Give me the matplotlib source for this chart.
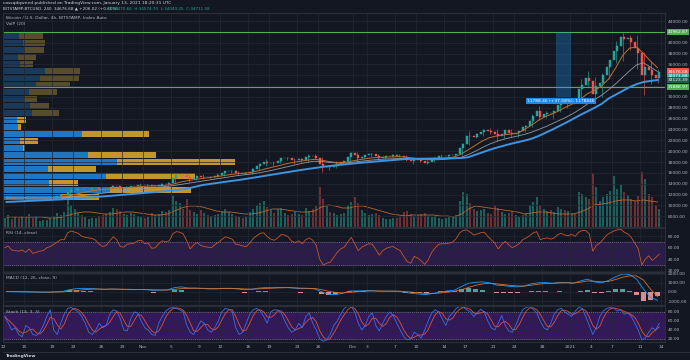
import numpy as np
import matplotlib.pyplot as plt
from matplotlib.patches import Rectangle

# ---------------- data (BTCUSD 4h chart, Oct 12 2020 -> Jan 13 2021) ----------------
# 12h closes, two per day
closes = np.array([
    11450, 11540, 11420, 11430, 11400, 11430, 11350, 11500, 11320, 11330,
    11360, 11370, 11450, 11500, 11600, 11750, 11900, 11920, 12500, 12820,
    12900, 12980, 12950, 13030, 13100, 13130, 13150, 13040, 13000, 13070,
    13300, 13650, 13550, 13280, 13300, 13460, 13500, 13560, 13750, 13800,
    13700, 13750, 13500, 13550, 13800, 14030, 14000, 14150, 15000, 15590,
    15600, 15580, 15200, 14830, 15150, 15480, 15200, 15330, 15300, 15310,
    15500, 15700, 15900, 16280, 16300, 16320, 16000, 16070, 15950, 15960,
    16200, 16720, 17200, 17660, 18000, 17800, 17900, 17820, 18200, 18700,
    18700, 18680, 18400, 18400, 18600, 18380, 18900, 19150, 19100, 18730,
    17600, 17150, 17200, 17140, 17300, 17720, 18000, 18180, 18900, 19700,
    19300, 18790, 19000, 19220, 19400, 19440, 19100, 18700, 18900, 19150,
    19200, 19360, 19200, 19170, 18900, 18320, 18200, 18540, 18400, 18250,
    17900, 18040, 18500, 18800, 19100, 19170, 19200, 19270, 19300, 19440,
    20500, 21340, 22850, 22800, 22600, 23150, 23600, 23870, 23800, 23480,
    23200, 22720, 23200, 23830, 23400, 23240, 23300, 23720, 24400, 24700,
    25500, 26450, 27500, 26250, 26800, 27040, 27000, 27370, 28500, 28870,
    28800, 28950, 29500, 29400, 31500, 32200, 33500, 33000, 30500, 31970,
    32500, 33990, 35500, 36820, 38500, 39460, 41000, 40600, 40800, 40150,
    39000, 38150, 34000, 35470, 35000, 33990, 33500, 34676.68,
])
first_open = 11400

day_high = np.array([
    11700, 11560, 11530, 11630, 11540, 11400, 11530, 11800, 12000, 13200,
    13180, 13030, 13150, 13350, 13250, 13780, 13850, 13640, 13670, 14100,
    13880, 13820, 14070, 14250, 15760, 15970, 15750, 15650, 15850, 15480,
    15970, 16350, 16500, 16330, 16150, 16880, 17850, 18500, 18150, 18800,
    18950, 18700, 18780, 19420, 19500, 18900, 17470, 18200, 18350, 19850,
    19900, 19300, 19580, 19520, 19170, 19420, 19420, 19280, 18650, 18560,
    18300, 18950, 19400, 19350, 19550, 21550, 23750, 23280, 24150, 24250,
    24100, 23830, 24100, 23800, 24750, 26850, 28400, 27500, 27400, 28990,
    29300, 29600, 33300, 34800, 33600, 34500, 36900, 40350, 41950, 41400,
    41350, 38300, 36650, 35100,
])
day_low = np.array([
    11230, 11250, 11280, 11280, 11200, 11300, 11340, 11400, 11700, 11900,
    12700, 12880, 12900, 12970, 12800, 12980, 13000, 12990, 13130, 13450,
    13620, 13220, 13300, 13530, 14100, 15200, 14350, 14720, 14850, 15080,
    15260, 15450, 15950, 15700, 15800, 15880, 16450, 17200, 17350, 17750,
    18450, 17650, 18000, 18020, 18550, 16200, 16500, 16900, 17550, 18150,
    18150, 18550, 18900, 18570, 18550, 18860, 18900, 18200, 17650, 18000,
    17560, 17950, 18700, 19000, 19050, 19300, 21200, 22350, 22750, 23080,
    21900, 22350, 22700, 22700, 23450, 24500, 25800, 26100, 25900, 27300,
    27900, 28700, 29000, 32000, 28800, 29900, 33300, 36300, 36600, 38700,
    35100, 30400, 32450, 32600,
])

# moving averages, daily
ma_orange = np.array([
    11400, 11430, 11440, 11450, 11430, 11410, 11420, 11470, 11560, 11800,
    12100, 12400, 12650, 12850, 12950, 13100, 13200, 13270, 13350, 13450,
    13550, 13600, 13650, 13750, 14000, 14350, 14600, 14800, 15000, 15150,
    15300, 15500, 15700, 15850, 15950, 16100, 16400, 16750, 17050, 17350,
    17700, 17950, 18150, 18350, 18500, 18350, 18100, 17950, 17900, 18100,
    18350, 18550, 18750, 18850, 18900, 18950, 19000, 18900, 18750, 18600,
    18450, 18450, 18550, 18750, 18950, 19500, 20300, 21100, 21900, 22500,
    22800, 23000, 23150, 23300, 24000, 24800, 25700, 26400, 26900, 27500,
    28200, 28800, 29600, 30600, 31200, 32000, 33300, 35300, 37600, 39000,
    39200, 38000, 36600, 35400,
])
ma_gray = np.array([
    11350, 11360, 11370, 11380, 11390, 11390, 11400, 11420, 11450, 11550,
    11700, 11850, 12000, 12150, 12300, 12450, 12600, 12750, 12900, 13050,
    13200, 13300, 13400, 13500, 13700, 13900, 14100, 14300, 14500, 14700,
    14900, 15100, 15300, 15500, 15650, 15800, 16000, 16250, 16500, 16800,
    17100, 17400, 17700, 17950, 18150, 18100, 17950, 17850, 17800, 17900,
    18050, 18200, 18350, 18450, 18550, 18600, 18650, 18650, 18600, 18550,
    18450, 18400, 18450, 18550, 18650, 18900, 19400, 20000, 20700, 21300,
    21800, 22200, 22500, 22800, 23100, 23500, 24000, 24500, 25100, 25700,
    26300, 27000, 27800, 28700, 29500, 30300, 31300, 32400, 33600, 34800,
    35900, 36300, 35500, 34700,
])
ma_blue = np.array([
    10640, 10700, 10760, 10820, 10880, 10940, 11000, 11070, 11140, 11220,
    11300, 11390, 11480, 11580, 11680, 11790, 11900, 12010, 12120, 12230,
    12340, 12450, 12560, 12680, 12800, 12930, 13170, 13450, 13770, 13950,
    14130, 14310, 14490, 14660, 14850, 15060, 15270, 15480, 15690, 15900,
    16110, 16320, 16520, 16720, 16900, 17090, 17240, 17390, 17530, 17660,
    17790, 17910, 18020, 18130, 18240, 18340, 18450, 18560, 18590, 18610,
    18630, 18650, 18670, 18690, 18710, 18750, 18900, 19350, 19800, 20250,
    20650, 21000, 21350, 21650, 21950, 22300, 22800, 23400, 24000, 24650,
    25300, 26000, 26700, 27350, 28000, 28700, 29700, 30400, 31100, 31800,
    32350, 32760, 32950, 33120,
])

# volume per 12h (hundreds of BTC) and its moving average (daily)
volume = np.array([
    9, 12, 8, 10, 9, 11, 10, 13, 9, 11, 6, 7, 7, 9, 11, 14, 12, 15, 27, 22,
    18, 14, 12, 10, 8, 9, 9, 11, 12, 13, 15, 19, 18, 16, 13, 12, 14, 13, 11, 10,
    9, 10, 14, 12, 13, 16, 15, 17, 32, 26, 24, 18, 28, 17, 15, 13, 17, 14, 12, 11,
    12, 13, 16, 18, 15, 13, 11, 10, 9, 10, 15, 18, 22, 24, 26, 20, 17, 14, 18, 19,
    14, 12, 13, 15, 13, 12, 19, 16, 18, 21, 40, 28, 22, 15, 14, 12, 13, 14, 22, 25,
    30, 24, 17, 14, 12, 13, 14, 12, 9, 8, 8, 9, 9, 10, 15, 16, 13, 11, 12, 13,
    14, 11, 10, 11, 9, 8, 9, 10, 11, 12, 26, 35, 33, 24, 18, 16, 17, 18, 14, 13,
    22, 19, 15, 13, 14, 15, 12, 10, 12, 14, 22, 25, 30, 22, 18, 16, 17, 15, 20, 18,
    17, 16, 14, 13, 35, 33, 30, 28, 54, 40, 26, 30, 33, 36, 51, 38, 42, 35, 32, 28,
    26, 31, 55, 48, 33, 30, 22, 18,
])
volume_ma = np.array([
    10, 10, 10, 10, 10, 10, 9, 9, 10, 12, 14, 15, 15, 14, 13, 13, 14, 15, 15, 14,
    13, 12, 12, 13, 16, 19, 21, 21, 20, 18, 16, 15, 15, 14, 13, 13, 14, 16, 18, 18,
    17, 16, 15, 15, 16, 20, 22, 21, 19, 19, 21, 21, 19, 17, 15, 13, 12, 11, 12, 12,
    12, 12, 11, 11, 10, 13, 18, 21, 20, 19, 18, 17, 16, 15, 13, 14, 15, 15, 14, 13,
    13, 13, 15, 18, 22, 23, 24, 26, 27, 27, 26, 27, 26, 25,
])

# visible-range volume profile, rows from bottom (11000) to top
vp_start = 11000
vp_step = 1290
vp_up = np.array([58, 107, 46, 103, 45, 114, 85, 20, 17, 79, 15, 14,
                  29, 27, 21, 26, 33, 37, 42, 17, 15, 21, 20, 16])
vp_down = np.array([38, 81, 29, 89, 48, 118, 68, 2, 18, 67, 3, 9,
                    27, 19, 13, 28, 34, 39, 35, 13, 18, 20, 22, 24])
vp_value_area_high = 26480

# RSI (14), 12h samples
rsi = np.array([
    60, 63, 56, 55, 54, 56, 52, 58, 50, 52, 54, 55, 60, 62, 66, 70, 74, 74, 86, 89,
    87, 85, 80, 78, 77, 76, 73, 66, 62, 64, 72, 79, 74, 62, 61, 66, 67, 68, 72, 73,
    67, 68, 59, 60, 67, 72, 70, 72, 84, 88, 87, 84, 72, 58, 65, 69, 64, 62, 61, 60,
    65, 69, 74, 79, 77, 75, 66, 65, 63, 62, 68, 76, 81, 85, 86, 79, 75, 73, 77, 83,
    82, 79, 71, 69, 72, 67, 74, 77, 73, 64, 40, 30, 33, 35, 43, 52, 58, 61, 70, 78,
    67, 55, 61, 64, 67, 66, 57, 47, 55, 59, 61, 62, 58, 55, 45, 36, 33, 45, 42, 37,
    31, 39, 52, 60, 66, 67, 67, 68, 70, 76, 86, 90, 91, 87, 82, 84, 86, 87, 80, 74,
    68, 58, 66, 71, 65, 60, 63, 67, 74, 77, 81, 86, 88, 74, 76, 77, 75, 77, 83, 85,
    82, 81, 83, 80, 87, 90, 90, 84, 54, 64, 68, 75, 82, 86, 89, 91, 92, 87, 84, 78,
    68, 58, 30, 40, 46, 38, 43, 49,
])

# MACD (12, 26, close, 9), daily
macd = np.array([
    50, 30, 10, 0, -20, -30, -20, 20, 60, 250, 370, 400, 380, 330, 280, 330, 300, 260, 250, 270,
    250, 180, 200, 230, 480, 560, 430, 420, 380, 330, 340, 400, 400, 330, 250, 300, 420, 480, 460, 500,
    500, 430, 360, 380, 340, 30, -250, -280, -150, 100, 120, 130, 160, 100, 80, 90, 80, -50, -150, -220,
    -280, -150, 0, 120, 200, 600, 950, 1050, 1100, 1000, 750, 700, 600, 560, 650, 900, 1000, 1020, 950, 1050,
    1020, 950, 1200, 1400, 1100, 1000, 1250, 1650, 1950, 1900, 1400, 300, -600, -900,
])
macd_signal = np.array([
    60, 50, 40, 30, 15, 0, -10, -5, 10, 80, 160, 240, 300, 320, 310, 310, 310, 300, 285, 275,
    265, 240, 220, 215, 290, 370, 400, 410, 400, 380, 360, 370, 380, 370, 330, 310, 340, 390, 420, 450,
    470, 460, 420, 400, 380, 260, 80, -50, -100, -40, 20, 70, 110, 110, 100, 95, 90, 40, -20, -90,
    -160, -160, -100, -20, 70, 250, 500, 720, 880, 950, 880, 800, 720, 660, 650, 740, 850, 920, 940, 980,
    1000, 980, 1070, 1200, 1170, 1100, 1150, 1350, 1600, 1750, 1750, 1300, 300, -500,
])
macd_hist = np.array([
    -10, -20, -30, -30, -35, -30, -10, 25, 50, 170, 210, 160, 80, 10, -30, 20, -10, -40, -35, -5,
    -15, -60, -20, 15, 190, 190, 30, 10, -20, -50, -20, 30, 20, -40, -80, -10, 80, 90, 40, 50,
    30, -30, -60, -20, -40, -230, -330, -230, -50, 140, 100, 60, 50, -10, -20, -5, -10, -90, -130, -130,
    -120, 10, 100, 140, 130, 350, 450, 330, 220, 50, -130, -100, -120, -100, 0, 160, 150, 100, 10, 70,
    20, -30, 130, 200, -70, -100, 100, 300, 350, 150, -350, -1000, -900, -400,
])

# Stoch (14, 3, 3), 12h samples
stoch_k = np.array([
    70, 55, 40, 45, 30, 25, 50, 45, 30, 28, 35, 50, 70, 85, 40, 30, 55, 75, 88, 90,
    85, 80, 70, 55, 35, 30, 40, 55, 45, 50, 75, 85, 82, 65, 40, 38, 65, 80, 78, 60,
    45, 40, 30, 28, 55, 70, 82, 88, 90, 88, 85, 80, 50, 35, 30, 45, 60, 55, 40, 35,
    45, 60, 80, 88, 86, 80, 45, 30, 35, 55, 75, 85, 88, 82, 70, 55, 80, 85, 84, 78,
    60, 45, 35, 40, 55, 45, 70, 78, 55, 40, 20, 15, 18, 30, 50, 60, 75, 88, 93, 92,
    80, 55, 40, 50, 70, 78, 50, 38, 55, 70, 80, 72, 55, 40, 25, 18, 20, 35, 30, 22,
    40, 60, 78, 85, 80, 65, 50, 70, 78, 88, 92, 90, 85, 80, 70, 78, 86, 80, 60, 45,
    40, 55, 72, 50, 38, 35, 50, 70, 85, 90, 92, 86, 78, 60, 45, 40, 55, 75, 85, 88,
    80, 75, 70, 82, 90, 88, 70, 50, 30, 45, 70, 82, 88, 90, 88, 82, 85, 75, 78, 70,
    55, 40, 18, 22, 35, 45, 40, 55,
])
stoch_d = np.array([
    70, 62, 55, 47, 38, 33, 35, 40, 42, 34, 31, 38, 52, 68, 65, 52, 42, 53, 73, 84,
    88, 85, 78, 68, 53, 40, 35, 42, 47, 50, 57, 70, 81, 77, 62, 48, 48, 61, 74, 73,
    61, 48, 38, 33, 38, 51, 69, 80, 87, 89, 88, 84, 72, 55, 38, 37, 45, 53, 52, 43,
    40, 47, 62, 76, 85, 85, 70, 52, 37, 40, 55, 72, 83, 85, 80, 69, 68, 73, 83, 82,
    74, 61, 47, 40, 43, 47, 57, 64, 68, 58, 38, 25, 18, 21, 33, 47, 62, 74, 85, 91,
    88, 76, 58, 48, 53, 66, 66, 55, 48, 54, 68, 74, 69, 56, 40, 28, 21, 24, 28, 29,
    31, 41, 59, 74, 81, 77, 65, 62, 66, 79, 86, 90, 89, 86, 78, 76, 78, 81, 75, 62,
    48, 47, 56, 59, 53, 41, 41, 52, 68, 82, 89, 89, 85, 75, 61, 48, 47, 57, 72, 83,
    84, 81, 75, 76, 81, 87, 83, 69, 50, 42, 48, 66, 80, 87, 89, 87, 85, 81, 79, 74,
    68, 55, 38, 27, 25, 34, 40, 47,
])

# time axis (days since Oct 12 2020)
tick_days = [0, 3, 7, 10, 14, 17, 20, 24, 28, 31, 35, 38, 42, 45, 50, 52, 56, 59,
             63, 66, 70, 73, 77, 81, 84, 87, 91, 94]
tick_labels = ['12', '15', '19', '22', '26', '29', 'Nov', '5', '9', '12', '16', '19',
               '23', '26', 'Dec', '3', '7', '10', '14', '17', '21', '24', '28', '2021',
               '4', '7', '11', '14']

# horizontal lines / price range drawing
level_high = 41962.87
level_low = 31888.97
range_start, range_end = 79.0, 81.0
range_high = level_high
range_low = level_high - 11788.46

# ---------------- style ----------------
W, H = 690, 360
BG = '#131722'
GRID = '#222733'
BORDER = '#2a2e39'
TXT = '#b2b5be'
UP = '#26a69a'
DOWN = '#ef5350'
FS = 3.2

fig = plt.figure(figsize=(W / 100, H / 100), dpi=100, facecolor=BG)


def rect(x0, y0, x1, y1):
    return [x0 / W, 1 - y1 / H, (x1 - x0) / W, (y1 - y0) / H]


def style(a, yt, fmt='{:.2f}'):
    a.set_facecolor('none')
    for s in a.spines.values():
        s.set_color(BORDER)
        s.set_linewidth(0.8)
    a.set_xlim(0, 94.57)
    a.set_xticks(tick_days)
    a.set_xticklabels([])
    a.yaxis.tick_right()
    a.set_yticks(yt)
    a.set_yticklabels([fmt.format(v) for v in yt])
    a.tick_params(length=0, labelsize=FS, colors=TXT, pad=2)
    a.grid(color=GRID, lw=0.5)
    a.set_axisbelow(True)


main_box = rect(3, 13, 665, 227)
ax_vp = fig.add_axes(main_box, zorder=1)
ax_vol = fig.add_axes(main_box, zorder=2)
ax = fig.add_axes(main_box, zorder=3)
ax_rsi = fig.add_axes(rect(3, 228, 665, 272))
ax_macd = fig.add_axes(rect(3, 273, 665, 305))
ax_st = fig.add_axes(rect(3, 306, 665, 342))

price_lim = (6028, 45475)

# volume profile
ax_vp.set_facecolor(BG)
ax_vp.set_xlim(0, 662)
ax_vp.set_ylim(*price_lim)
ax_vp.axis('off')
row_mid = vp_start + vp_step * (np.arange(len(vp_up)) + 0.5)
in_va = row_mid < vp_value_area_high
ax_vp.barh(row_mid, vp_up, height=vp_step * 0.86,
           color=np.where(in_va, '#1f77c4', '#1b3a5a'), lw=0)
ax_vp.barh(row_mid, vp_down, left=vp_up, height=vp_step * 0.86,
           color=np.where(in_va, '#c3952c', '#574d2d'), lw=0)

# volume bars
t12 = np.arange(len(closes)) * 0.5 + 0.25
opens = np.concatenate([[first_open], closes[:-1]])
is_up = closes >= opens
ax_vol.set_xlim(0, 94.57)
ax_vol.set_ylim(0, 214)
ax_vol.axis('off')
ax_vol.bar(t12, volume, width=0.28, color=np.where(is_up, '#1b605a', '#6e2e33'), lw=0)
days = np.arange(len(ma_blue)) + 0.5
ax_vol.plot(days, volume_ma, color='#b8692c', lw=0.6)

# main price pane
style(ax, np.arange(8000, 44001, 2000))
ax.set_ylim(*price_lim)
ax.axhline(level_high, color='#4caf50', lw=0.8)
ax.axhline(level_low, color='#4caf50', lw=0.8)
ax.add_patch(Rectangle((range_start, range_low), range_end - range_start,
                       range_high - range_low, fc='#2196f3', alpha=0.3,
                       ec='#29b6f6', lw=0.4, zorder=2))
day_open = opens[0::2]
day_close = closes[1::2]
ax.vlines(days, day_low, day_high, colors=np.where(day_close >= day_open, UP, DOWN),
          lw=0.45, zorder=3)
ax.bar(t12, closes - opens, bottom=opens, width=0.3,
       color=np.where(is_up, UP, DOWN), edgecolor=np.where(is_up, UP, DOWN),
       lw=0.3, zorder=4)
ax.plot(days, ma_gray, color='#9598a1', lw=0.6, zorder=5)
ax.plot(days, ma_orange, color='#c0702c', lw=0.7, zorder=5)
ax.plot(days, ma_blue, color='#3d94e0', lw=1.4, zorder=5)

ax.text((range_start + range_end) / 2 - 0.3, range_low - 900,
        '11788.46 (+37.58%), 1178846', fontsize=FS, color='white',
        ha='center', va='center', zorder=6,
        bbox=dict(boxstyle='square,pad=0.3', fc='#1e88e5', ec='none'))


def price_box(y, label, fc):
    ax.text(1.004, y, label, transform=ax.get_yaxis_transform(), fontsize=FS,
            color='white', ha='left', va='center', clip_on=False, zorder=10,
            bbox=dict(boxstyle='square,pad=0.25', fc=fc, ec='none'))


price_box(level_high, f'{level_high:.2f}', '#4caf50')
price_box(closes[-1], f'{closes[-1]:.2f}', '#ef5350')
price_box(ma_gray[-1] - 800, '34071.88', '#26a69a')
price_box(ma_blue[-1], '33123.39', '#1b5e4a')
price_box(level_low, f'{level_low:.2f}', '#4caf50')

ax.text(0.005, 0.985, 'Bitcoin / U.S. Dollar, 4h, BITSTAMP, Index Auto',
        transform=ax.transAxes, fontsize=FS, color=TXT, va='top')
ax.text(0.005, 0.96, 'VolP (20)', transform=ax.transAxes, fontsize=FS,
        color=TXT, va='top')

# RSI pane
style(ax_rsi, [20, 40, 60, 80])
ax_rsi.set_ylim(17.8, 94.3)
ax_rsi.axhspan(30, 70, color='#2b1c4a', zorder=0)
for lvl in (30, 70):
    ax_rsi.axhline(lvl, color='#787b86', lw=0.5, ls=(0, (1.5, 1.5)))
ax_rsi.plot(t12, rsi, color='#c8562c', lw=0.6)
ax_rsi.text(0.005, 0.93, 'RSI (14, close)', transform=ax_rsi.transAxes,
            fontsize=FS, color=TXT, va='top')

# MACD pane
style(ax_macd, [-1000, 0, 1000, 2000])
ax_macd.set_ylim(-1413, 2065)
ax_macd.bar(days, macd_hist, width=0.85,
            color=np.where(macd_hist >= 0, '#4db6ac', '#ef9a9a'), lw=0, alpha=0.9)
ax_macd.plot(days, macd, color='#2196f3', lw=0.6)
ax_macd.plot(days, macd_signal, color='#d2722c', lw=0.6)
ax_macd.text(0.005, 0.9, 'MACD (12, 26, close, 9)', transform=ax_macd.transAxes,
             fontsize=FS, color=TXT, va='top')

# Stoch pane
style(ax_st, [20, 40, 60, 80])
ax_st.set_ylim(13.3, 93.3)
ax_st.axhspan(20, 80, color='#33195a', zorder=0)
for lvl in (20, 80):
    ax_st.axhline(lvl, color='#787b86', lw=0.5, ls=(0, (1.5, 1.5)))
ax_st.plot(t12, stoch_d, color='#e0503a', lw=0.6)
ax_st.plot(t12, stoch_k, color='#3a6ee8', lw=0.6)
ax_st.set_xticklabels(tick_labels)
ax_st.tick_params(axis='x', pad=2.5)
ax_st.text(0.005, 0.9, 'Stoch (14, 3, 3)', transform=ax_st.transAxes,
           fontsize=FS, color=TXT, va='top')

# header and footer
fig.text(3 / W, 1 - 3 / H, 'cassqdqweed published on TradingView.com, January 13, 2021 18:20:31 UTC',
         fontsize=FS, color='#d1d4dc', va='center')
fig.text(3 / W, 1 - 8.5 / H, 'BITSTAMP:BTCUSD, 240  34676.68 \u25b2 +206.02 (+0.60%)',
         fontsize=3.0, color='#d1d4dc', va='center')
fig.text(108 / W, 1 - 8.5 / H, 'O:34470.66  H:34574.70  L:34040.25  C:34711.58',
         fontsize=3.0, color='#26a69a', va='center')
fig.add_artist(plt.Line2D([3 / W, 1], [1 - 352 / H, 1 - 352 / H], color=BORDER, lw=0.8))
fig.text(6 / W, 1 - 356 / H, 'TradingView', fontsize=FS, color='#d1d4dc',
         va='center', fontweight='bold')

fig.savefig('out.png', dpi=100, facecolor=BG)
